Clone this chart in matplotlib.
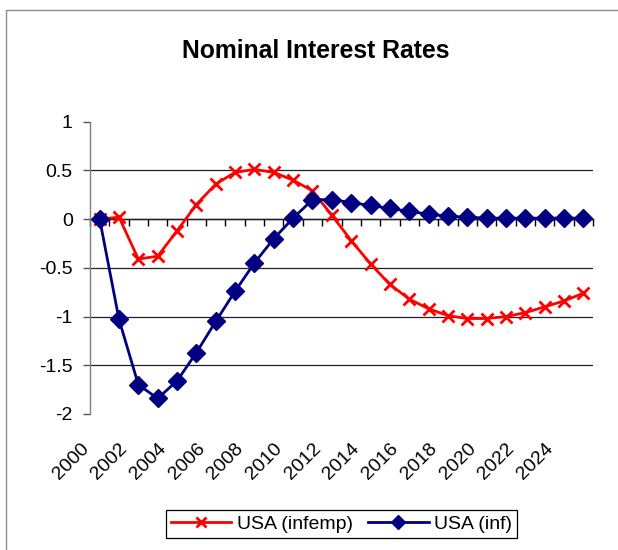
import matplotlib
matplotlib.use("Agg")
import matplotlib.pyplot as plt
from matplotlib.patches import Rectangle
from matplotlib.transforms import ScaledTranslation
import numpy as np

plt.rcParams['font.family'] = ['Liberation Sans', 'DejaVu Sans']

years = list(range(2000, 2026))
infemp = [0.00, 0.02, -0.41, -0.38, -0.12, 0.15, 0.36, 0.48, 0.51, 0.48,
          0.40, 0.29, 0.04, -0.22, -0.46, -0.67, -0.82, -0.92, -0.99, -1.02,
          -1.02, -1.00, -0.96, -0.90, -0.84, -0.76]
inf = [0.00, -1.03, -1.70, -1.84, -1.66, -1.37, -1.05, -0.74, -0.45, -0.20,
       0.01, 0.20, 0.20, 0.17, 0.14, 0.11, 0.08, 0.05, 0.03, 0.02,
       0.01, 0.01, 0.01, 0.01, 0.01, 0.01]
yticks = [1, 0.5, 0, -0.5, -1, -1.5, -2]
ytick_labels = ['1', '0.5', '0', '-0.5', '-1', '-1.5', '-2']
label_years = list(range(2000, 2025, 2))

W, H = 618, 550
fig = plt.figure(figsize=(W / 100, H / 100), dpi=100)
fig.patch.set_facecolor('white')

# outer chart border (gray), extending beyond image on right/bottom
fig.patches.append(Rectangle((5.5 / W, -0.05), 1.2, 1 - 9.5 / H + 0.05,
                             transform=fig.transFigure, fill=False,
                             edgecolor='#8c8c8c', linewidth=1.0))

ax = fig.add_axes([90 / W, 1 - 414 / H, 503 / W, (414 - 121.7) / H])
x = np.arange(len(years))
ax.plot(x, infemp, color='#ff0000', linewidth=2.0, marker='x', markersize=8,
        markeredgewidth=2.0, label='USA (infemp)')
ax.plot(x, inf, color='#000080', linewidth=2.0, marker='D', markersize=9.5,
        markeredgecolor='#000080', label='USA (inf)')

ax.set_xlim(-0.5, len(years) - 0.5)
ax.set_ylim(-2, 1)
ax.set_yticks(yticks)
ax.set_yticklabels(ytick_labels)
for s in ['top', 'right', 'bottom']:
    ax.spines[s].set_visible(False)
ax.spines['left'].set_color('#7f7f7f')
ax.spines['left'].set_linewidth(1.0)
ax.tick_params(axis='y', direction='out', length=5, width=1.0, color='#555555',
               pad=7.5, labelsize=14)
ax.yaxis.grid(True, color='#222222', linewidth=0.9)
gl = ax.get_ygridlines()
gl[0].set_visible(False)
gl[-1].set_visible(False)

xt = [years.index(yv) for yv in label_years]
ax.set_xticks(xt)
ax.set_xticklabels([str(v) for v in label_years], rotation=45, ha='right',
                   fontsize=14)
ax.tick_params(axis='x', length=0, pad=18.5)
off = ScaledTranslation(-7.5 / 100, 0, fig.dpi_scale_trans)
for lbl in ax.get_xticklabels():
    lbl.set_transform(lbl.get_transform() + off)

# category axis at y = 0 with tick marks between categories
sec = ax.secondary_xaxis(0, transform=ax.transData)
sec.spines['bottom'].set_color('black')
sec.spines['bottom'].set_linewidth(1.0)
sec.set_xticks(np.arange(-0.5, len(years), 1.0))
sec.set_xticklabels([])
sec.tick_params(axis='x', direction='out', length=5, width=1.0, color='black')

fig.text(315.5 / W, 1 - 51 / H, 'Nominal Interest Rates', ha='center',
         va='center', fontsize=17.8, fontweight='bold')

leg = ax.legend(loc='center', bbox_to_anchor=(341.5 / W, 1 - 524 / H),
                bbox_transform=fig.transFigure, ncol=2, fontsize=14,
                frameon=True, fancybox=False, framealpha=1, edgecolor='black',
                handlelength=3.1, handletextpad=0.3, columnspacing=0.8,
                borderpad=0.25, borderaxespad=0)
leg.get_frame().set_linewidth(0.9)
for h in leg.legend_handles:
    h.set_markersize(7)

fig.savefig('out.png', dpi=100)
